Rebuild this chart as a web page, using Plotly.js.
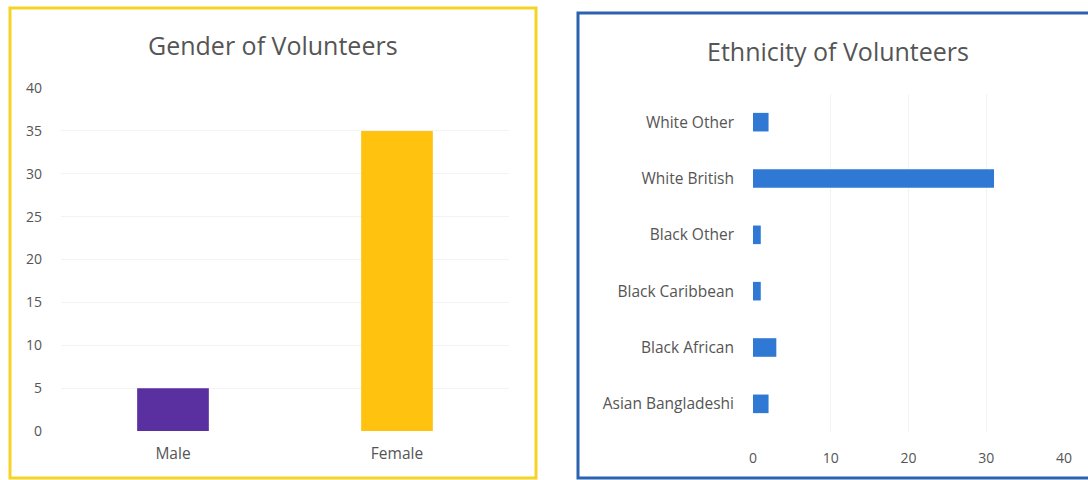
<!DOCTYPE html>
<html><head><meta charset="utf-8">
<script src="https://cdn.plot.ly/plotly-3.0.1.min.js"></script>
<style>html,body{margin:0;padding:0;background:#fff}#c{width:1088px;height:480px}</style>
</head><body><div id="c"></div>
<script>
const genderCats = ["Male", "Female"];
const genderVals = [5, 35];
const genderColors = ["#5a2fa0", "#ffc30f"];

const ethnicCats = ["Asian Bangladeshi", "Black African", "Black Caribbean", "Black Other", "White British", "White Other"];
const ethnicVals = [2, 3, 1, 1, 31, 2];

const genderTicks = [0, 5, 10, 15, 20, 25, 30, 35, 40];
const ethnicTicks = [0, 10, 20, 30, 40];

const W = 1088, H = 480;
const px = v => v / W, py = v => 1 - v / H;
const numFont = {family: "Open Sans, sans-serif", size: 14, color: "#555555"};
const catFont = {family: "Open Sans, sans-serif", size: 15.5, color: "#555555"};
const titleFont = {family: "Open Sans, sans-serif", size: 25, color: "#555555"};

const data = [
  {type: "bar", x: genderCats, y: genderVals, marker: {color: genderColors},
   width: 0.32, xaxis: "x", yaxis: "y", hoverinfo: "x+y"},
  {type: "bar", orientation: "h", y: ethnicCats, x: ethnicVals,
   marker: {color: "#2f78d4"}, width: 0.33, xaxis: "x2", yaxis: "y2", hoverinfo: "x+y"}
];

const layout = {
  width: W, height: H, margin: {l: 0, r: 0, t: 0, b: 0},
  paper_bgcolor: "#fff", plot_bgcolor: "rgba(0,0,0,0)", showlegend: false,
  xaxis: {domain: [px(61), px(509)], range: [-0.5, 1.5], type: "category",
          categoryarray: genderCats, showgrid: false, zeroline: false, showline: false,
          ticks: "", tickfont: catFont, ticklabelstandoff: 11, anchor: "y"},
  yaxis: {domain: [py(431), py(88)], range: [0, 40], tickvals: genderTicks,
          showgrid: true, gridcolor: "#f3f3f3", zeroline: false, showline: false,
          ticks: "", tickfont: numFont, ticklabelstandoff: 18, anchor: "x"},
  xaxis2: {domain: [px(753), px(1064)], range: [0, 40], tickvals: ethnicTicks,
           showgrid: true, gridcolor: "#f3f3f3", zeroline: false, showline: false,
           ticks: "", tickfont: numFont, ticklabelstandoff: 16, anchor: "y2"},
  yaxis2: {domain: [py(432), py(94)], type: "category", categoryarray: ethnicCats,
           range: [-0.5, 5.5], showgrid: false, zeroline: false, showline: false,
           ticks: "", tickfont: catFont, ticklabelstandoff: 18, anchor: "x2"},
  annotations: [
    {xref: "paper", yref: "paper", x: px(273), y: py(45), text: "Gender of Volunteers",
     showarrow: false, font: titleFont, xanchor: "center", yanchor: "middle"},
    {xref: "paper", yref: "paper", x: px(838), y: py(51), text: "Ethnicity of Volunteers",
     showarrow: false, font: titleFont, xanchor: "center", yanchor: "middle"}
  ],
  shapes: [
    {type: "rect", xref: "paper", yref: "paper", x0: px(10), x1: px(536), y0: py(478), y1: py(8),
     line: {color: "#f6d327", width: 3}},
    {type: "rect", xref: "paper", yref: "paper", x0: px(578), x1: px(1092), y0: py(478), y1: py(13),
     line: {color: "#2d62b0", width: 3}}
  ]
};

Plotly.newPlot("c", data, layout, {displayModeBar: false, staticPlot: true});
</script>
</body></html>
